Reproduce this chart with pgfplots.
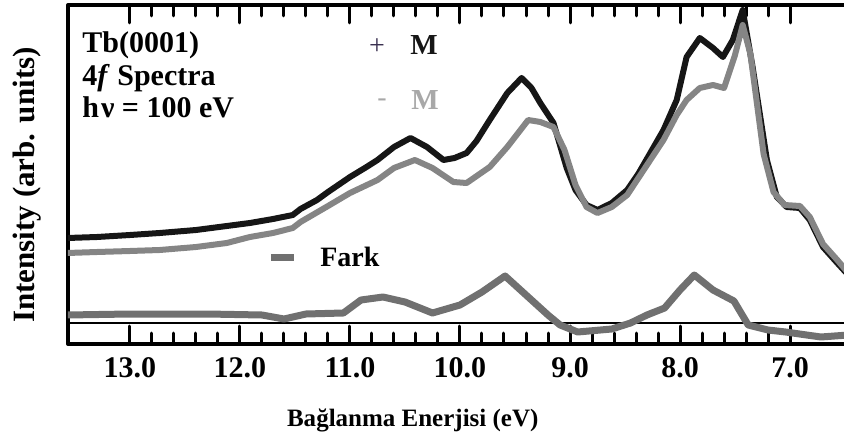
\documentclass[border=0pt]{standalone}
\usepackage{pgfplots}
\pgfplotsset{compat=1.18}
\usepackage{fontspec}
\setmainfont{Liberation Serif}
\definecolor{cblack}{HTML}{161616}
\definecolor{cgrey}{HTML}{858585}
\definecolor{cdiff}{HTML}{707070}
\definecolor{clight}{HTML}{A8A8A8}
\definecolor{cplus}{HTML}{3A3050}
\begin{document}
\begin{tikzpicture}
\begin{axis}[
  at={(34pt,47.5pt)}, anchor=south west,
  scale only axis, width=390pt, height=169.5pt,
  x dir=reverse, xmin=6.4727, xmax=13.5636, ymin=0, ymax=339,
  xtick={7,8,9,10,11,12,13},
  xticklabels={7.0,8.0,9.0,10.0,11.0,12.0,13.0},
  minor x tick num=4,
  ytick=\empty,
  xtick pos=both, tick align=inside,
  major tick length=9pt, minor tick length=5.5pt,
  tick style={black, line width=1.5pt, line cap=round},
  axis line style={line width=2pt, line join=round},
  xticklabel style={font=\fontsize{15}{16}\selectfont\bfseries, yshift=-3pt},
  xlabel={Bağlanma Enerjisi (eV)},
  xlabel style={at={(axis description cs:0.442,-0.226)}, anchor=center, font=\fontsize{12.5}{14}\selectfont\bfseries},
  ylabel={Intensity (arb. units)},
  ylabel style={at={(axis description cs:-0.0526,0.469)}, anchor=center, font=\fontsize{15.5}{17}\selectfont\bfseries},
  legend style={at={(axis description cs:0.255,0.254)}, anchor=west, draw=none, fill=none, inner sep=0pt,
    font=\fontsize{14}{15}\selectfont\bfseries},
  legend image code/.code={\draw[#1, line width=3.5pt] (0pt,0pt) -- (11.5pt,0pt); \path (21pt,0pt);},
]
\addplot[cblack, line width=3pt, line join=round, forget plot] table {
13.57 106
13.30 107
13.00 109
12.73 111
12.40 114
12.12 118
11.91 121
11.70 125
11.52 129
11.45 135
11.30 144
11.20 152
11.00 167
10.85 177
10.75 184
10.60 197
10.45 206
10.30 197
10.15 184
10.05 186
9.94 191
9.85 203
9.73 224
9.57 251
9.44 266
9.35 256
9.27 241
9.15 221
9.03 176
8.95 154
8.85 139
8.75 134
8.62 141
8.48 154
8.38 170
8.27 191
8.15 214
8.03 244
7.94 287
7.82 306
7.70 296
7.61 287
7.52 304
7.43 334
7.34 277
7.27 227
7.21 184
7.12 147
7.03 137
6.91 136
6.82 124
6.70 97
6.57 81
6.47 69
};
\addplot[cgrey, line width=3pt, line join=round, forget plot] table {
13.57 91
13.30 92
13.00 93
12.73 94
12.40 97
12.12 101
11.91 107
11.70 111
11.52 116
11.45 122
11.20 138
11.00 151
10.75 164
10.60 176
10.41 184
10.25 176
10.06 162
9.94 161
9.73 177
9.57 197
9.38 224
9.27 222
9.15 217
9.05 194
8.95 159
8.85 137
8.75 131
8.62 137
8.48 149
8.27 184
8.15 204
8.03 229
7.94 244
7.82 256
7.70 259
7.60 256
7.50 289
7.43 319
7.36 290
7.30 240
7.24 190
7.15 152
7.05 139
6.91 138
6.82 127
6.70 100
6.57 84
6.47 71
};
\addplot[black, line width=1pt, forget plot] coordinates {(6.40,21) (13.60,21)};
\addplot[cdiff, line width=3.5pt, line join=round] table {
13.57 29
13.00 30
12.30 30
11.80 29
11.60 25
11.40 30
11.06 31
10.90 44
10.70 47
10.50 42
10.25 31
10.00 39
9.80 52
9.59 68
9.40 49
9.20 29
9.09 19
8.93 12
8.62 15
8.45 21
8.30 29
8.14 36
8.00 54
7.87 69
7.70 54
7.51 43
7.38 19
7.20 14
7.04 12
6.72 7
6.47 9
};
\addlegendentry{Fark}
\end{axis}
\node[anchor=base west, inner sep=0pt, font=\fontsize{15}{16}\selectfont\bfseries] at (41pt,193pt) {Tb(0001)};
\node[anchor=base west, inner sep=0pt, font=\fontsize{15}{16}\selectfont\bfseries] at (41pt,176.5pt) {4\textit{f} Spectra};
\node[anchor=base west, inner sep=0pt, font=\fontsize{15}{16}\selectfont\bfseries] at (41pt,160.5pt) {h\kern1ptν = 100 eV};
\node[anchor=center, inner sep=0pt, text=cplus, font=\fontsize{14}{16}\selectfont] at (188.5pt,196pt) {+};
\node[anchor=base, inner sep=0pt, text=cblack, font=\fontsize{14.5}{16}\selectfont\bfseries] at (212pt,192pt) {M};
\node[anchor=center, inner sep=0pt, text=clight, font=\fontsize{14}{16}\selectfont] at (191pt,168pt) {-};
\node[anchor=base, inner sep=0pt, text=clight, font=\fontsize{14.5}{16}\selectfont\bfseries] at (212.5pt,164.5pt) {M};
\pgfresetboundingbox
\useasboundingbox (0,0) rectangle (422pt,219.5pt);
\end{tikzpicture}
\end{document}
